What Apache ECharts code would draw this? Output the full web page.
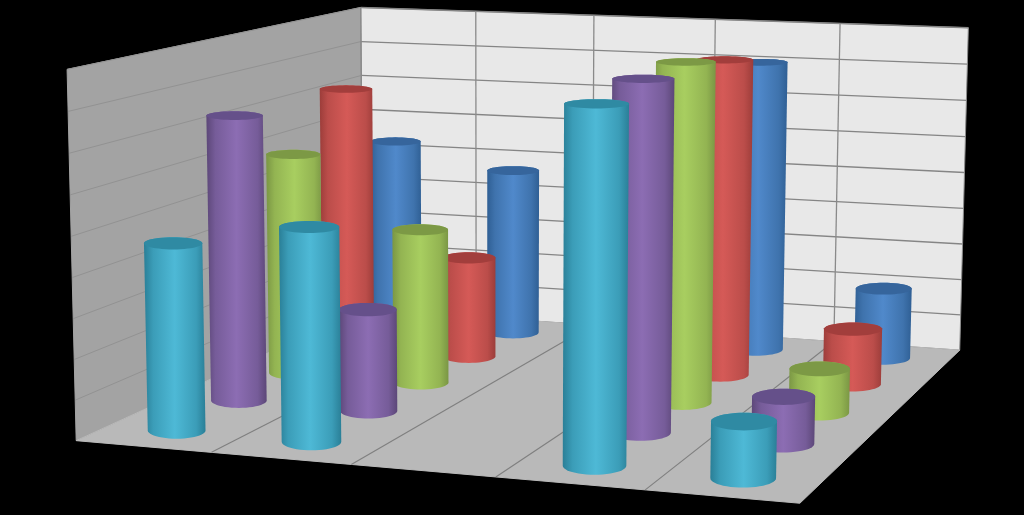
<!DOCTYPE html>
<html><head><meta charset="utf-8">
<style>html,body{margin:0;padding:0;background:#000}#c{width:1024px;height:515px}</style>
<script src="https://cdn.jsdelivr.net/npm/echarts@6/dist/echarts.min.js"></script>
</head><body><div id="c"></div>
<script>
// Data: one array per series (front row to back row), one value per category; the third category is empty.
const categories = ['1','2','3','4','5'];
const valueTicks = [0,1,2,3,4,5,6,7,8,9];
const teal   = [4.65, 5.25, null, 8.5, 1.33];
const purple = [7.35, 2.6, null, 8.7, 1.16];
const green  = [5.9, 4.08, null, 8.75, 1.13];
const red    = [7.25, 2.75, null, 8.45, 1.48];
const blue   = [5.35, 4.68, null, 8.03, 1.94];
const rows = [blue, red, green, purple, teal]; // drawn back to front
const rowDepth = [0.9, 0.7, 0.5, 0.3, 0.1];
const rowColors = [
  ['#2f5f94','#3f73ad','#5089cb','#36659c'],
  ['#9c3d3a','#bb4d4a','#d55a57','#a23e3c'],
  ['#7a9644','#93b452','#a8ce60','#7c9945'],
  ['#5c4778','#765c99','#8c6db3','#65508a'],
  ['#2a7f97','#3b9db8','#4eb9d6','#2f8aa3']
];
const radiusU = 0.0435, radiusD = 0.053;

// Camera calibration: [u, depth, height] -> picture position of the chart box
const calib = [
 [0,0,0,75,440],[1,0,0,799,505],[1,1,0,960,350],[0,1,0,362,310],
 [0,0,1,66,70],[0,1,1,362,7],[1,1,1,968,26],
 [.2,1,1,476,11],[.4,1,1,594,16],[.6,1,1,715,21],[.8,1,1,840,23],
 [.2,0,0,213,452],[.4,0,0,352,463],[.6,0,0,497,477],[.8,0,0,645,490]
];
function solveCamera(){
  const n=11,A=Array.from({length:n},()=>new Array(n+1).fill(0));
  const add=(r,b)=>{for(let i=0;i<n;i++){for(let j=0;j<n;j++)A[i][j]+=r[i]*r[j];A[i][n]+=r[i]*b;}};
  calib.forEach(([u,d,z,X,Y])=>{const x=X/1000,y=Y/1000;
    add([u,d,z,1,0,0,0,0,-x*u,-x*d,-x*z],x);
    add([0,0,0,0,u,d,z,1,-y*u,-y*d,-y*z],y);});
  for(let c=0;c<n;c++){let p=c;for(let r=c+1;r<n;r++)if(Math.abs(A[r][c])>Math.abs(A[p][c]))p=r;
    [A[c],A[p]]=[A[p],A[c]];
    for(let r=0;r<n;r++){if(r===c)continue;const f=A[r][c]/A[c][c];for(let k=c;k<=n;k++)A[r][k]-=f*A[c][k];}}
  return A.map((r,i)=>r[n]/r[i]);
}
const M=solveCamera();
function P(u,d,z){const w=M[8]*u+M[9]*d+M[10]*z+1;
  return [1000*(M[0]*u+M[1]*d+M[2]*z+M[3])/w,1000*(M[4]*u+M[5]*d+M[6]*z+M[7])/w];}

function hull(pts){pts=pts.slice().sort((a,b)=>a[0]-b[0]||a[1]-b[1]);
  const cr=(o,a,b)=>(a[0]-o[0])*(b[1]-o[1])-(a[1]-o[1])*(b[0]-o[0]);
  const lo=[],up=[];
  for(const p of pts){while(lo.length>1&&cr(lo[lo.length-2],lo[lo.length-1],p)<=0)lo.pop();lo.push(p);}
  for(const p of pts.slice().reverse()){while(up.length>1&&cr(up[up.length-2],up[up.length-1],p)<=0)up.pop();up.push(p);}
  return lo.slice(0,-1).concat(up.slice(0,-1));}

function ring(u,d,z){const c=P(u,d,z);
  const rx=Math.abs(P(u+radiusU,d,z)[0]-P(u-radiusU,d,z)[0])/2;
  const ry=Math.abs(P(u,d+radiusD,z)[1]-P(u,d-radiusD,z)[1])/2;
  const out=[];for(let i=0;i<48;i++){const t=i/48*2*Math.PI;out.push([c[0]+rx*Math.cos(t),c[1]+ry*Math.sin(t)]);}
  return out;}

function grad(c){return new echarts.graphic.LinearGradient(0,0,1,0,[
  {offset:0,color:c[0]},{offset:.15,color:c[1]},{offset:.5,color:c[2]},{offset:.85,color:c[1]},{offset:1,color:c[0]}]);}

const cylinderSeries=rows.map((vals,r)=>({
  type:'custom',coordinateSystem:'cartesian2d',z:10+r,clip:false,silent:true,
  encode:{x:0,y:1},
  data:categories.map((c,i)=>[i,vals[i]===null?NaN:vals[i]]),
  renderItem(params,api){
    const v=api.value(1);if(isNaN(v))return null;
    const W=api.getWidth(),H=api.getHeight();
    const pt=api.coord([api.value(0),v]),pb=api.coord([api.value(0),0]);
    const u=pt[0]/W,zt=(pb[1]-pt[1])/H,d=rowDepth[r];
    const top=ring(u,d,zt),bot=ring(u,d,0);
    const c=rowColors[r];
    return {type:'group',children:[
      {type:'polygon',shape:{points:hull(top.concat(bot))},style:{fill:grad(c)}},
      {type:'polygon',shape:{points:top},style:{fill:c[3]}}
    ]};
  }
}));

const boxSeries={
  type:'custom',coordinateSystem:'cartesian2d',z:1,clip:false,silent:true,
  encode:{x:0,y:1},data:[[0,0]],
  renderItem(params,api){
    const H=api.getHeight();
    const zero=api.coord([0,0])[1];
    const kids=[];
    const poly=(pts,fill,stroke)=>kids.push({type:'polygon',shape:{points:pts},style:{fill,stroke:stroke||fill,lineWidth:1}});
    const line=(a,b,col,w)=>kids.push({type:'line',shape:{x1:a[0],y1:a[1],x2:b[0],y2:b[1]},style:{stroke:col,lineWidth:w||1.3}});
    poly([P(0,0,0),P(0,1,0),P(0,1,1),P(0,0,1)],'#a3a3a3');
    poly([P(0,1,0),P(1,1,0),P(1,1,1),P(0,1,1)],'#e8e8e8','#8c8c8c');
    poly([P(0,0,0),P(1,0,0),P(1,1,0),P(0,1,0)],'#b9b9b9');
    valueTicks.slice(1).forEach(t=>{
      const z=(zero-api.coord([0,t])[1])/H;
      line(P(0,0,z),P(0,1,z),'#929292',1);
      line(P(0,1,z),P(1,1,z),'#858585',1.3);
    });
    for(let i=1;i<categories.length;i++){
      const u=i/categories.length;
      line(P(u,1,0),P(u,1,1),'#8a8a8a',1.3);
      line(P(u,0,0),P(u,1,0),'#7f7f7f',1.1);
    }
    line(P(0,1,0),P(0,1,1),'#8a8a8a',1.3);
    return {type:'group',children:kids};
  }
};

const chart=echarts.init(document.getElementById('c'),null,{renderer:'canvas'});
chart.setOption({
  backgroundColor:'#000',animation:false,
  grid:{left:0,right:0,top:0,bottom:0,containLabel:false},
  xAxis:{type:'category',data:categories,show:false},
  yAxis:{type:'value',min:0,max:9,interval:1,show:false},
  series:[boxSeries].concat(cylinderSeries)
});
</script></body></html>
